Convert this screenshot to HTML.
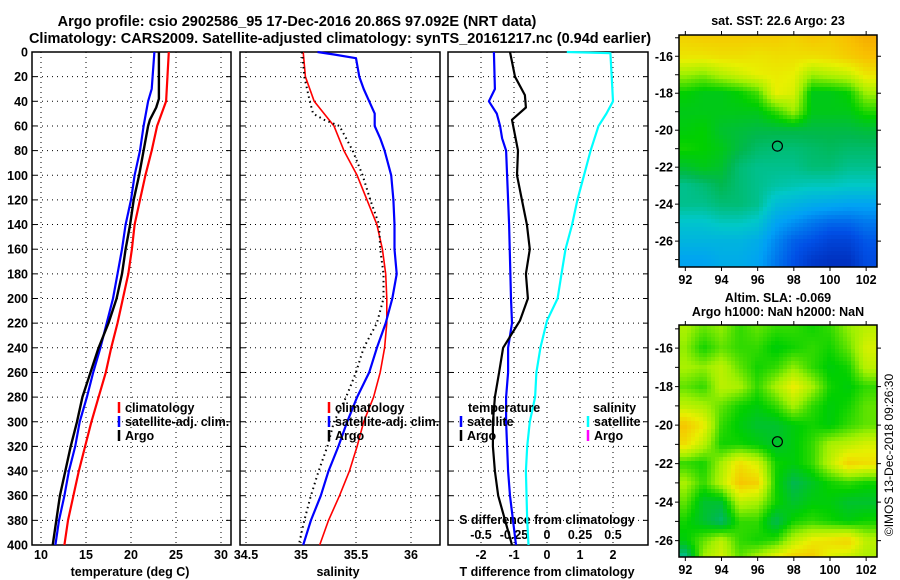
<!DOCTYPE html>
<html><head><meta charset="utf-8"><style>
html,body{margin:0;padding:0;background:#fff;}
svg{display:block;font-family:"Liberation Sans",sans-serif;font-weight:bold;}
</style></head><body>
<svg id="chart" width="900" height="580" viewBox="0 0 900 580" xmlns="http://www.w3.org/2000/svg">
<text x="297" y="26" font-size="14.5" text-anchor="middle">Argo profile: csio 2902586_95 17-Dec-2016 20.86S 97.092E (NRT data)</text>
<text x="340" y="43" font-size="14.5" text-anchor="middle">Climatology: CARS2009. Satellite-adjusted climatology: synTS_20161217.nc (0.94d earlier)</text>
<g id="g"></g>
</svg>
<script>
const depthTicks=[0,20,40,60,80,100,120,140,160,180,200,220,240,260,280,300,320,340,360,380,400];
const tempTicks=[10,15,20,25,30];
const salTicks=[34.5,35,35.5,36];
const tdTicks=[-2,-1,0,1,2];
const sdTicks=[-0.5,-0.25,0,0.25,0.5];
const sdTickLabels=["-0.5","-0.25","0","0.25","0.5"];

const tempClimD=[0,40,60,80,100,120,140,160,180,200,220,240,260,280,300,320,340,360,380,400];
const tempClimV=[24.2,23.9,22.9,22.3,21.6,21.0,20.4,20.1,19.7,19.1,18.5,17.8,17.2,16.4,15.6,14.9,14.2,13.6,13.0,12.6];
const tempSatD=[0,20,30,40,60,80,100,120,140,160,180,200,220,240,260,280,300,320,340,360,380,400];
const tempSatV=[22.6,22.4,22.3,21.9,21.4,21.0,20.4,20.0,19.4,19.0,18.5,18.0,17.3,16.6,15.8,15.1,14.3,13.8,13.1,12.6,12.0,11.6];
const tempArgoD=[0,38,45,55,60,80,100,120,140,160,180,200,220,240,260,280,300,320,340,360,380,400];
const tempArgoV=[23.1,23.1,22.8,22.1,21.9,21.4,20.9,20.3,19.9,19.4,19.0,18.4,17.5,16.4,15.5,14.6,14.0,13.3,12.7,12.1,11.7,11.3];

const salClimD=[0,20,40,50,60,80,100,120,140,160,180,200,220,240,260,280,300,320,340,360,380,400];
const salClimV=[35.02,35.04,35.12,35.21,35.30,35.39,35.51,35.60,35.69,35.74,35.77,35.78,35.78,35.76,35.72,35.66,35.57,35.51,35.44,35.35,35.25,35.17];
const salSatD=[0,2,5,20,30,40,50,60,70,80,100,120,140,160,180,200,220,240,260,280,300,320,340,360,380,400];
const salSatV=[35.15,35.3,35.5,35.53,35.57,35.62,35.67,35.67,35.72,35.76,35.82,35.84,35.85,35.85,35.87,35.83,35.77,35.69,35.62,35.51,35.42,35.34,35.25,35.18,35.09,35.02];
const salArgoD=[0,20,40,50,55,60,80,100,120,140,160,180,200,220,240,260,280,300,320,340,360,380,400];
const salArgoV=[35.01,35.03,35.08,35.11,35.21,35.35,35.47,35.56,35.63,35.71,35.72,35.75,35.75,35.69,35.57,35.50,35.41,35.30,35.24,35.16,35.09,35.03,34.98];

const tdSatD=[0,30,35,40,50,60,70,80,100,140,200,220,240,260,280,300,320,340,360,380,400];
const tdSatV=[-1.61,-1.58,-1.67,-1.76,-1.52,-1.42,-1.36,-1.24,-1.21,-1.15,-1.09,-1.06,-1.18,-1.18,-1.24,-1.24,-1.21,-1.18,-1.12,-1.03,-0.94];
const tdArgoD=[0,20,35,45,55,80,100,120,140,160,180,200,218,240,260,280,300,320,340,360,380,400];
const tdArgoV=[-1.12,-0.97,-0.67,-0.64,-1.06,-0.88,-0.91,-0.76,-0.61,-0.52,-0.64,-0.58,-0.82,-1.33,-1.45,-1.58,-1.64,-1.64,-1.58,-1.48,-1.27,-1.06];
const sdSatD=[0,1,20,40,50,60,80,100,120,140,160,180,200,218,240,260,280,300,320,340,380,400];
const sdSatV=[0.15,0.48,0.49,0.5,0.45,0.39,0.33,0.28,0.23,0.19,0.14,0.11,0.08,0,-0.05,-0.08,-0.09,-0.13,-0.15,-0.16,-0.15,-0.14];

const mapLats=[-15,-16,-17,-18,-19,-20,-21,-22,-23,-24,-25,-26,-27];
const mapLons=[92,93,94,95,96,97,98,99,100,101,102];
const sstGrid=[
[0.85,0.86,0.86,0.86,0.86,0.86,0.85,0.87,0.86,0.88,0.9],
[0.82,0.82,0.83,0.83,0.82,0.83,0.83,0.83,0.84,0.86,0.88],
[0.72,0.7,0.74,0.77,0.8,0.81,0.8,0.72,0.74,0.76,0.82],
[0.62,0.6,0.6,0.62,0.66,0.8,0.78,0.6,0.6,0.62,0.72],
[0.6,0.6,0.6,0.6,0.6,0.65,0.72,0.6,0.6,0.6,0.64],
[0.61,0.62,0.58,0.57,0.56,0.56,0.56,0.56,0.56,0.56,0.57],
[0.63,0.62,0.6,0.56,0.53,0.52,0.52,0.53,0.54,0.53,0.53],
[0.58,0.6,0.58,0.52,0.5,0.5,0.5,0.52,0.52,0.5,0.5],
[0.5,0.52,0.55,0.52,0.5,0.48,0.47,0.46,0.46,0.45,0.45],
[0.5,0.5,0.52,0.52,0.5,0.42,0.4,0.38,0.37,0.36,0.36],
[0.44,0.44,0.46,0.46,0.44,0.36,0.33,0.3,0.28,0.28,0.3],
[0.4,0.4,0.4,0.4,0.38,0.32,0.27,0.25,0.22,0.22,0.26],
[0.36,0.36,0.38,0.38,0.36,0.3,0.25,0.2,0.18,0.18,0.24]];
const slaGrid=[
[0.73,0.68,0.71,0.65,0.68,0.65,0.65,0.63,0.65,0.71,0.75],
[0.71,0.63,0.68,0.65,0.65,0.61,0.63,0.65,0.63,0.68,0.78],
[0.73,0.71,0.75,0.68,0.63,0.65,0.71,0.65,0.61,0.63,0.75],
[0.68,0.65,0.75,0.73,0.65,0.73,0.81,0.73,0.63,0.61,0.65],
[0.75,0.73,0.68,0.63,0.61,0.65,0.73,0.65,0.61,0.63,0.68],
[0.87,0.81,0.65,0.61,0.58,0.58,0.61,0.63,0.61,0.65,0.68],
[0.83,0.75,0.63,0.63,0.61,0.58,0.61,0.65,0.73,0.75,0.78],
[0.65,0.63,0.73,0.83,0.78,0.63,0.61,0.65,0.75,0.85,0.83],
[0.73,0.65,0.75,0.87,0.85,0.63,0.55,0.59,0.63,0.65,0.63],
[0.68,0.58,0.58,0.75,0.73,0.63,0.58,0.61,0.61,0.58,0.58],
[0.63,0.58,0.53,0.65,0.65,0.55,0.63,0.65,0.63,0.61,0.63],
[0.61,0.68,0.75,0.65,0.63,0.65,0.75,0.81,0.83,0.85,0.75],
[0.48,0.73,0.78,0.68,0.75,0.83,0.87,0.87,0.78,0.75,0.73]];
const argoLon=97.092, argoLat=-20.86;

const NS="http://www.w3.org/2000/svg";
const G=document.getElementById('g');
function mk(tag,attrs,parent){const e=document.createElementNS(NS,tag);for(const k in attrs)e.setAttribute(k,attrs[k]);(parent||G).appendChild(e);return e;}
function txt(s,x,y,size,anchor,fill){const t=mk('text',{x:x,y:y,'font-size':size,'text-anchor':anchor||'start',fill:fill||'#000'});t.textContent=s;return t;}

const Y0=52,Y1=545;
const yD=d=>Y0+d*(Y1-Y0)/400;
const xT=t=>41+(t-10)*9;
const xS=s=>301+(s-35)*110;
const xTd=v=>547+v*33;
const xSd=v=>547+v*132;

const panels=[{x0:32,x1:231,name:'temperature-panel'},{x0:240,x1:440,name:'salinity-panel'},{x0:448,x1:648,name:'difference-panel'}];
function panelFrame(p,xticks,xf){
  const g=mk('g',{});
  
  
  depthTicks.forEach(d=>{if(d>0&&d<400){const l=mk('line',{x1:p.x0,x2:p.x1,y1:yD(d),y2:yD(d),stroke:'#000','stroke-width':1,'stroke-dasharray':'1 4'},g);}
    mk('line',{x1:p.x0,x2:p.x0+5,y1:yD(d),y2:yD(d),stroke:'#000'},g);mk('line',{x1:p.x1-5,x2:p.x1,y1:yD(d),y2:yD(d),stroke:'#000'},g);});
  xticks.forEach(v=>{const x=xf(v);const l=mk('line',{x1:x,x2:x,y1:Y0,y2:Y1,stroke:'#000','stroke-width':1,'stroke-dasharray':'1 4'},g);});
  const r=mk('rect',{x:p.x0,y:Y0,width:p.x1-p.x0,height:Y1-Y0,fill:'none',stroke:'#000','stroke-width':1.5},g);
  
  return g;
}
function line(D,V,xf,color,w,dash,name){
  const pts=D.map((d,i)=>xf(V[i]).toFixed(1)+','+yD(d).toFixed(1)).join(' ');
  const a={points:pts,fill:'none',stroke:color,'stroke-width':w,'stroke-linejoin':'round'};
  if(dash)a['stroke-dasharray']=dash;
  const e=mk('polyline',a);
  
  
}
panelFrame(panels[0],tempTicks,xT);
panelFrame(panels[1],salTicks,xS);
panelFrame(panels[2],tdTicks,xTd);

depthTicks.forEach(d=>{const t=txt(String(d),28,yD(d)+4.5,12.5,'end');});
tempTicks.forEach(v=>{const t=txt(String(v),xT(v),559,12.5,'middle');});
salTicks.forEach(v=>{const t=txt(String(v),xS(v),559,12.5,'middle');});
tdTicks.forEach(v=>{const t=txt(String(v),xTd(v),559,12.5,'middle');});
sdTicks.forEach((v,i)=>{const t=txt(sdTickLabels[i],xSd(v),539,12.5,'middle');});
let t;
t=txt('temperature (deg C)',130,576,12.5,'middle');
t=txt('salinity',338,576,12.5,'middle');
t=txt('T difference from climatology',547,576,12.5,'middle');
t=txt('S difference from climatology',547,524,12.5,'middle');

line(tempClimD,tempClimV,xT,'#ff0000',2.2,null,'temperature-climatology-line');
line(tempSatD,tempSatV,xT,'#0000ff',2.2,null,'temperature-satellite-line');
line(tempArgoD,tempArgoV,xT,'#000',2.4,null,'temperature-argo-line');
line(salClimD,salClimV,xS,'#ff0000',1.6,null,'salinity-climatology-line');
line(salSatD,salSatV,xS,'#0000ff',2.2,null,'salinity-satellite-line');
line(salArgoD,salArgoV,xS,'#000',2,'1.5 3.5','salinity-argo-line');
line(tdSatD,tdSatV,xTd,'#0000ff',2.2,null,'t-difference-satellite-line');
line(tdArgoD,tdArgoV,xTd,'#000',2.2,null,'t-difference-argo-line');
line(sdSatD,sdSatV,xSd,'#00ffff',2.2,null,'s-difference-satellite-line');

function legendEntry(mx,y,color,label,name){
  const g=mk('g',{});
  if(color)mk('line',{x1:mx,x2:mx,y1:y-10,y2:y+1,stroke:color,'stroke-width':2.5},g);
  const e=mk('text',{x:mx+6,y:y,'font-size':12.5},g);e.textContent=label;
}
legendEntry(119,412,'#ff0000','climatology','legend-entry-climatology');
legendEntry(119,426,'#0000ff','satellite-adj. clim.','legend-entry-satellite');
legendEntry(119,440,'#000','Argo','legend-entry-argo');
legendEntry(329,412,'#ff0000','climatology','legend-entry-climatology');
legendEntry(329,426,'#0000ff','satellite-adj. clim.','legend-entry-satellite');
legendEntry(329,440,'#000','Argo','legend-entry-argo');
legendEntry(462,412,null,'temperature','legend-heading-temperature');
legendEntry(461,426,'#0000ff','satellite','legend-entry-t-satellite');
legendEntry(461,440,'#000','Argo','legend-entry-t-argo');
legendEntry(587,412,null,'salinity','legend-heading-salinity');
legendEntry(588,426,'#00ffff','satellite','legend-entry-s-satellite');
legendEntry(588,440,'#ff00ff','Argo','legend-entry-s-argo');

const stops=[[0.1,[0,16,150]],[0.25,[0,80,230]],[0.35,[0,160,245]],[0.45,[0,200,200]],[0.55,[0,184,80]],[0.62,[0,208,0]],[0.72,[160,240,0]],[0.8,[232,240,0]],[0.88,[248,192,0]],[0.95,[240,128,0]]];
function cmap(v){if(v<=stops[0][0])return stops[0][1];for(let i=1;i<stops.length;i++){if(v<=stops[i][0]){const a=stops[i-1],b=stops[i];const f=(v-a[0])/(b[0]-a[0]);return a[1].map((c,k)=>Math.round(c+(b[1][k]-c)*f));}}return stops[stops.length-1][1];}
function interp(grid,lon,lat){
  let fi=(mapLats[0]-lat)/(mapLats[0]-mapLats[mapLats.length-1])*(mapLats.length-1);
  let fj=(lon-mapLons[0])/(mapLons[mapLons.length-1]-mapLons[0])*(mapLons.length-1);
  fi=Math.max(0,Math.min(mapLats.length-1.001,fi));fj=Math.max(0,Math.min(mapLons.length-1.001,fj));
  const i=Math.floor(fi),j=Math.floor(fj),a=fi-i,b=fj-j;
  return grid[i][j]*(1-a)*(1-b)+grid[i+1][j]*a*(1-b)+grid[i][j+1]*(1-a)*b+grid[i+1][j+1]*a*b;
}
function drawMap(grid,m,name){
  const g=mk('g',{});
  const lonX=lo=>m.x0+(lo-m.lonMin)*(m.x1-m.x0)/(m.lonMax-m.lonMin);
  const latY=la=>m.y0+(m.latMax-la)*(m.y1-m.y0)/(m.latMax-m.latMin);
  const cs=m.cell;
  for(let y=m.y0;y<m.y1;y+=cs){for(let x=m.x0;x<m.x1;x+=cs){
    const lo=m.lonMin+(x+cs/2-m.x0)/(m.x1-m.x0)*(m.lonMax-m.lonMin);
    const la=m.latMax-(y+cs/2-m.y0)/(m.y1-m.y0)*(m.latMax-m.latMin);
    const c=cmap(interp(grid,lo,la));
    const r=mk('rect',{x:x,y:y,width:Math.min(cs,m.x1-x)+0.3,height:Math.min(cs,m.y1-y)+0.3,fill:'rgb('+c.join(',')+')'},g);
    
  }}
  mk('rect',{x:m.x0,y:m.y0,width:m.x1-m.x0,height:m.y1-m.y0,fill:'none',stroke:'#000','stroke-width':1.5},g);
  [-16,-18,-20,-22,-24,-26].forEach(la=>{const y=latY(la);mk('line',{x1:m.x0-4,x2:m.x0,y1:y,y2:y,stroke:'#000'},g);mk('line',{x1:m.x1,x2:m.x1+4,y1:y,y2:y,stroke:'#000'},g);
    const tl=txt(String(la),m.x0-6,y+4.5,12.5,'end');});
  [-15,-17,-19,-21,-23,-25,-27].forEach(la=>{const y=latY(la);if(y>m.y0&&y<m.y1){mk('line',{x1:m.x0-4,x2:m.x0,y1:y,y2:y,stroke:'#000'},g);}});
  [92,94,96,98,100,102].forEach(lo=>{const x=lonX(lo);mk('line',{x1:x,x2:x,y1:m.y1,y2:m.y1+4,stroke:'#000'},g);mk('line',{x1:x,x2:x,y1:m.y0-4,y2:m.y0,stroke:'#000'},g);
    const tl=txt(String(lo),x,m.y1+17,12.5,'middle');});
  const c=mk('circle',{cx:lonX(argoLon),cy:latY(argoLat),r:5,fill:'none',stroke:'#000','stroke-width':1.2},g);
  
}
drawMap(sstGrid,{x0:679,x1:877,y0:35,y1:267,lonMin:91.65,lonMax:102.6,latMax:-14.85,latMin:-27.4,cell:4},'sst-map');
drawMap(slaGrid,{x0:679,x1:877,y0:325,y1:557,lonMin:91.65,lonMax:102.6,latMax:-14.8,latMin:-26.85,cell:4},'sla-map');
t=txt('sat. SST: 22.6 Argo: 23',778,25,12.5,'middle');
t=txt('Altim. SLA: -0.069',778,302,12.5,'middle');
t=txt('Argo h1000: NaN h2000: NaN',778,316,12.5,'middle');
t=mk('text',{x:0,y:0,'font-size':12,'font-weight':'normal','text-anchor':'middle',transform:'translate(893,455) rotate(-90)'});
t.textContent='©IMOS 13-Dec-2018 09:26:30';


</script>
</body></html>
